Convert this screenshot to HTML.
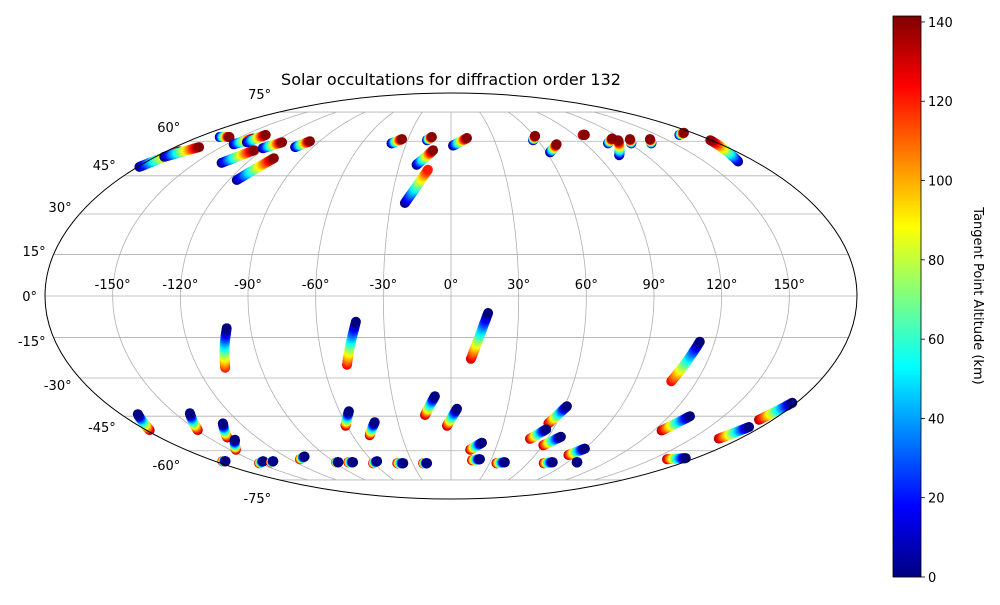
<!DOCTYPE html>
<html><head><meta charset="utf-8"><style>
body{margin:0;background:#fff;font-family:"Liberation Sans",sans-serif}
svg text{font-family:"DejaVu Sans","Liberation Sans",sans-serif}
</style></head><body>
<svg id="chart" width="1000" height="600" xmlns="http://www.w3.org/2000/svg">
<rect width="1000" height="600" fill="#fff"/>
<text x="451" y="85" text-anchor="middle" font-size="16">Solar occultations for diffraction order 132</text>
<g id="grid"></g>
<g id="marks"></g>
<g id="labels"></g>
<ellipse cx="451" cy="296" rx="406" ry="203" fill="none" stroke="#000" stroke-width="1"/>
<g id="cbar"></g>
<text transform="translate(974,296) rotate(90)" text-anchor="middle" font-size="13">Tangent Point Altitude (km)</text>
</svg>
<script>
// track endpoints: lon/lat at lowest altitude and at highest altitude
const trackLon0 = [-179,-174.6,-165,-145,-138.5,-134.7,-115.7,-121.7,-101.7,-40,-16.6,1.3,-20,-23,
  56.8,62.2,96,105.6,103.5,121.2,134.7,166.4,170,
  -100.7,-42.5,16.5,113.2,
  -170.8,-141.8,-129.9,-135.7,-172,-143.2,-135.6,-106,-87,-75.6,-55,-43.2,-56.4,-37.3,-18.7,-8.2,3.2,
  19.9,21.6,41.6,61.2,56,67.6,90,97.1,78.6,131.5,173,177.9,173];
const trackLat0 = [48.7,53,62,58.6,59.5,50.4,43.3,56.8,57.3,59,60.5,58,49.6,34.2,
  60.5,55,63,59,53.7,59,59,63,51,
  -11.6,-9.3,-6.1,-16.5,
  -44.2,-43.8,-48,-55,-65,-65,-65,-62.7,-65.5,-65.5,-43,-47.5,-65,-66,-66,-37,-42,
  -56.3,-64,-65.5,-41,-50.5,-53.7,-59,-65.5,-65.5,-45,-49.5,-39.6,-63.5];
const trackLon1 = [-171.6,-164.3,-158,-139,-135,-125.4,-106.9,-114.6,-96.6,-34.2,-13.6,11.3,-11.4,-13.1,
  60.6,70.5,97.5,113.3,115.6,125,139,173.6,179.4,
  -107,-49,9.3,107.6,
  -177.9,-149.5,-138.3,-146,-174.4,-150,-139,-112.5,-88.7,-79.4,-60.8,-49.5,-60.9,-42,-21.8,-14.2,-2.3,
  13,15.8,35.5,55.5,49.3,60.4,83.7,97.5,72.5,124.7,166.8,172.3,161];
const trackLat1 = [55.4,57.3,62,61.3,63,55.9,52.4,59.5,60,61,62,61.5,55.9,47.5,
  62.5,58.6,63,61.3,60.5,61,61,64,60.5,
  -26.1,-25,-22.8,-31.2,
  -50.8,-50.8,-54,-59.5,-65,-66,-65.5,-64,-65.5,-65.5,-49,-53,-66,-66,-66,-44.5,-49,
  -59.5,-64.5,-66,-48,-54.6,-57.5,-62,-65.5,-66,-51,-54.5,-46.5,-64];
const trackAltMin = [0,0,0,0,0,0,0,0,0,0,0,0,0,0, 0,0,125,0,0,0,0,0,0, 0,0,0,0,
  0,0,0,0,0,0,0,0,0,0,0,0,0,0,0,0,0, 0,0,0,0,0,0,0,0,0,0,0,0,0];
const trackAltMax = [140,140,140,140,140,140,140,140,140,140,140,140,140,120, 140,140,140,140,140,140,140,140,140,
  120,125,130,125,
  135,135,135,135,135,135,135,135,135,135,135,135,135,135,135,135,135, 135,135,135,135,135,135,135,10,135,135,135,135,135];
const cbTicks = [0,20,40,60,80,100,120,140];
const lonTicks = [-150,-120,-90,-60,-30,0,30,60,90,120,150];
const latTicks = [-75,-60,-45,-30,-15,0,15,30,45,60,75];
const ALT_MAX = 141.5;

const NS='http://www.w3.org/2000/svg';
const CX=451, CY=296, RX=406, RY=203;
function theta(latDeg){
  const p=latDeg*Math.PI/180; if(Math.abs(latDeg)>=90) return Math.sign(latDeg)*Math.PI/2;
  let t=p; for(let i=0;i<50;i++){const f=2*t+Math.sin(2*t)-Math.PI*Math.sin(p);const d=2+2*Math.cos(2*t);if(Math.abs(d)<1e-9)break;t-=f/d;}
  return t;
}
function proj(lon,lat){const t=theta(lat);return [CX+RX*(lon/180)*Math.cos(t), CY-RY*Math.sin(t)];}
function jet(v){
  const c=x=>Math.max(0,Math.min(1,x));
  const r=c(1.5-Math.abs(4*v-3)), g=c(1.5-Math.abs(4*v-2)), b=c(1.5-Math.abs(4*v-1));
  return `rgb(${Math.round(r*255)},${Math.round(g*255)},${Math.round(b*255)})`;
}
function mk(tag,attrs,parent){const e=document.createElementNS(NS,tag);for(const k in attrs)e.setAttribute(k,attrs[k]);parent.appendChild(e);return e;}

// grid
const grid=document.getElementById('grid');
latTicks.forEach(lat=>{
  if(lat===0) return;
  const a=proj(-180,lat), b=proj(180,lat);
  const l=mk('line',{x1:a[0],y1:a[1],x2:b[0],y2:b[1],stroke:'#b0b0b0','stroke-width':0.8},grid);
  
  
});
{const a=proj(-180,0), b=proj(180,0);
 const l=mk('line',{x1:a[0],y1:a[1],x2:b[0],y2:b[1],stroke:'#b0b0b0','stroke-width':0.8},grid);
 
 }
[...lonTicks].forEach(lon=>{
  let d='';for(let lat=-75;lat<=75;lat+=1){const p=proj(lon,lat);d+=(d?'L':'M')+p[0].toFixed(1)+','+p[1].toFixed(1);}
  const l=mk('path',{d:d,fill:'none',stroke:'#b0b0b0','stroke-width':0.8},grid);
  
  
});

// tracks
const marks=document.getElementById('marks');
const N=28;
for(let i=0;i<trackLon0.length;i++){
  const g=mk('g',{},marks);
  
  
  const south=trackLat0[i]<0;
  for(let j=0;j<=N;j++){
    const k=south?N-j:j, f=k/N;
    const lon=trackLon0[i]+(trackLon1[i]-trackLon0[i])*f;
    const lat=trackLat0[i]+(trackLat1[i]-trackLat0[i])*f;
    const alt=trackAltMin[i]+(trackAltMax[i]-trackAltMin[i])*f;
    const p=proj(lon,lat);
    const c=mk('circle',{cx:p[0].toFixed(1),cy:p[1].toFixed(1),r:5,fill:jet(alt/ALT_MAX)},g);
    
    
  }
}

// labels
const labels=document.getElementById('labels');
lonTicks.forEach(lon=>{
  const p=proj(lon,0);
  const t=mk('text',{x:p[0],y:p[1]-7,'text-anchor':'middle','font-size':13},labels);
  t.textContent=lon+'°';
  
  
});
latTicks.forEach(lat=>{
  const p=proj(-180,lat);
  const t=mk('text',{x:p[0]-8,y:p[1]+5-lat/75*18,'text-anchor':'end','font-size':13},labels);
  t.textContent=lat+'°';
  
  
});

// colorbar
const cb=document.getElementById('cbar');
const cbX=893,cbW=28,cbTop=16,cbBot=577;
const cbY=v=>cbBot-(v/ALT_MAX)*(cbBot-cbTop);
for(let y=cbTop;y<cbBot;y++){
  const v=(cbBot-y-0.5)/(cbBot-cbTop);
  const r=mk('rect',{x:cbX,y:y,width:cbW,height:1.2,fill:jet(v)},cb);
  
  
}
{const r=mk('rect',{x:cbX,y:cbTop,width:cbW,height:cbBot-cbTop,fill:'none',stroke:'#000','stroke-width':0.8},cb);
 
 }
cbTicks.forEach(v=>{
  const y=cbY(v);
  const l=mk('line',{x1:cbX+cbW,y1:y,x2:cbX+cbW+4,y2:y,stroke:'#000','stroke-width':0.8},cb);
  
  
  const t=mk('text',{x:cbX+cbW+7,y:y+5,'font-size':13},cb);
  t.textContent=v;
  
  
});
</script>
</body></html>
